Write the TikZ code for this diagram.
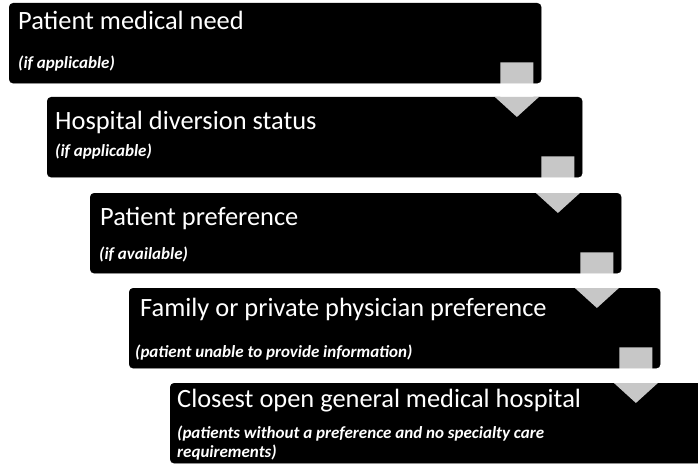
\documentclass[tikz,border=0pt]{standalone}
\usepackage{fontspec}
\setmainfont{Carlito}
\usetikzlibrary{calc}
\tikzset{
  stepbox/.style={fill=black, draw=black, rounded corners=4pt, minimum height=80pt, inner sep=0pt, anchor=north west},
  titletext/.style={text=white, font=\fontsize{26.4}{30}\selectfont, inner sep=0pt, anchor=base west},
  subtext/.style={text=white, font=\fontsize{17}{19}\selectfont\bfseries\itshape, inner sep=0pt, anchor=base west},
  arrowfill/.style={fill=white, fill opacity=0.78}
}
\begin{document}
\begin{tikzpicture}[x=1pt, y=-1pt]
\useasboundingbox (0,0) rectangle (698,465);
\fill[white] (0,0) rectangle (698,465);
\node[stepbox, minimum width=532pt] (b1) at (9,3) {};
\node[stepbox, minimum width=535pt] (b2) at (47,97) {};
\node[stepbox, minimum width=531pt] (b3) at (90,193) {};
\node[stepbox, minimum width=531pt] (b4) at (129,288) {};
\node[stepbox, minimum width=532pt] (b5) at (170,383) {};
\node[titletext] (t1) at ($(b1.north west)+(9,27)$) {Patient medical need};
\node[subtext] (s1) at ($(b1.north west)+(9,66)$) {(if applicable)};
\node[titletext] (t2) at ($(b2.north west)+(8,33)$) {Hospital diversion status};
\node[subtext] (s2) at ($(b2.north west)+(8,60)$) {(if applicable)};
\node[titletext] (t3) at ($(b3.north west)+(10,32)$) {Patient preference};
\node[subtext] (s3) at ($(b3.north west)+(9,66)$) {(if available)};
\node[titletext] (t4) at ($(b4.north west)+(11,28)$) {Family or private physician preference};
\node[subtext] (s4) at ($(b4.north west)+(6,69)$) {(patient unable to provide information)};
\node[titletext] (t5) at ($(b5.north west)+(7,24)$) {Closest open general medical hospital};
\node[subtext] (s5) at ($(b5.north west)+(7,55)$) {(patients without a preference and no specialty care};
\node[subtext] (s5b) at ($(b5.north west)+(7,74)$) {requirements)};
\foreach \a/\b in {b1/b2,b2/b3,b3/b4,b4/b5} {
  \coordinate (c) at ($(\a.south east)+(-24.5,0)$);
  \coordinate (d) at (c |- \b.north);
  \fill[arrowfill] ($(c)+(-16.5,-21)$) -- ($(c)+(16.5,-21)$) -- ($(d)+(16.5,0)$) -- ($(d)+(22,0)$) -- ($(d)+(0,20)$) -- ($(d)+(-22,0)$) -- ($(d)+(-16.5,0)$) -- cycle;
}
\end{tikzpicture}
\end{document}
